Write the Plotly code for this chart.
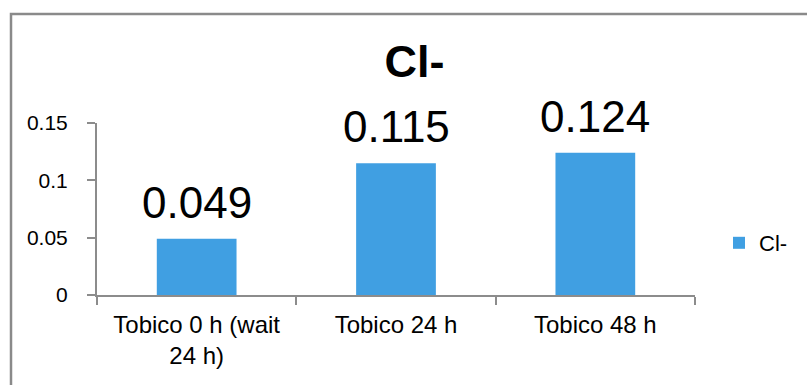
import plotly.graph_objects as go

# Chloride readings per sampling time
categories = ["Tobico 0 h (wait<br>24 h)", "Tobico 24 h", "Tobico 48 h"]
cl_values = [0.049, 0.115, 0.124]
series_name = "Cl-"
y_ticks = [0, 0.05, 0.1, 0.15]
y_tick_labels = ["0", "0.05", "0.1", "0.15"]

BAR_COLOR = "#409FE2"
AXIS_COLOR = "#8C8C8C"
FONT = "Liberation Sans, Arial, sans-serif"

W, H = 807, 385
ML, MR, MT, MB = 97, 112, 123, 90
plot_w = W - ML - MR
plot_h = H - MT - MB

fig = go.Figure()
fig.add_trace(go.Bar(
    x=categories,
    y=cl_values,
    name=series_name,
    marker=dict(color=BAR_COLOR, line=dict(width=0)),
    showlegend=True,
))

# value labels above each bar
for cat, val in zip(categories, cl_values):
    fig.add_annotation(
        x=cat, y=val, xref="x", yref="y",
        text=f"{val:g}", showarrow=False,
        yanchor="bottom", yshift=10,
        font=dict(family=FONT, size=44, color="#000000"),
    )

# outer chart frame
def px_to_paper_x(px):
    return (px - ML) / plot_w

def px_to_paper_y(py):
    return (H - MB - py) / plot_h

fig.add_shape(
    type="rect", xref="paper", yref="paper",
    x0=px_to_paper_x(11), x1=px_to_paper_x(W + 40),
    y0=px_to_paper_y(H + 40), y1=px_to_paper_y(14),
    line=dict(color="#8A8A8A", width=2.5),
    fillcolor="rgba(0,0,0,0)", layer="above",
)

fig.update_layout(
    width=W, height=H,
    margin=dict(l=ML, r=MR, t=MT, b=MB, pad=0),
    paper_bgcolor="white", plot_bgcolor="white",
    font=dict(family=FONT, color="#000000"),
    bargap=0.6,
    title=dict(
        text="<b>Cl-</b>", x=414.5 / W, xanchor="center",
        y=1 - 61 / H, yanchor="middle", yref="container",
        font=dict(family=FONT, size=45, color="#000000"),
    ),
    legend=dict(
        x=px_to_paper_x(719), y=px_to_paper_y(243),
        xanchor="left", yanchor="middle",
        font=dict(family=FONT, size=22, color="#000000"),
        bgcolor="rgba(0,0,0,0)",
    ),
    xaxis=dict(
        showgrid=False, zeroline=False,
        showline=True, linecolor=AXIS_COLOR, linewidth=2,
        ticks="outside", tickson="boundaries", ticklen=8,
        tickwidth=2, tickcolor=AXIS_COLOR,
        tickfont=dict(family=FONT, size=24, color="#000000"),
        ticklabelstandoff=7,
    ),
    yaxis=dict(
        range=[0, 0.15], tickvals=y_ticks, ticktext=y_tick_labels,
        showgrid=False, zeroline=False,
        showline=True, linecolor=AXIS_COLOR, linewidth=2,
        ticks="outside", ticklen=8, tickwidth=2, tickcolor=AXIS_COLOR,
        tickfont=dict(family=FONT, size=21, color="#000000"),
        ticklabelstandoff=15,
    ),
)

fig.write_html("out.html")
